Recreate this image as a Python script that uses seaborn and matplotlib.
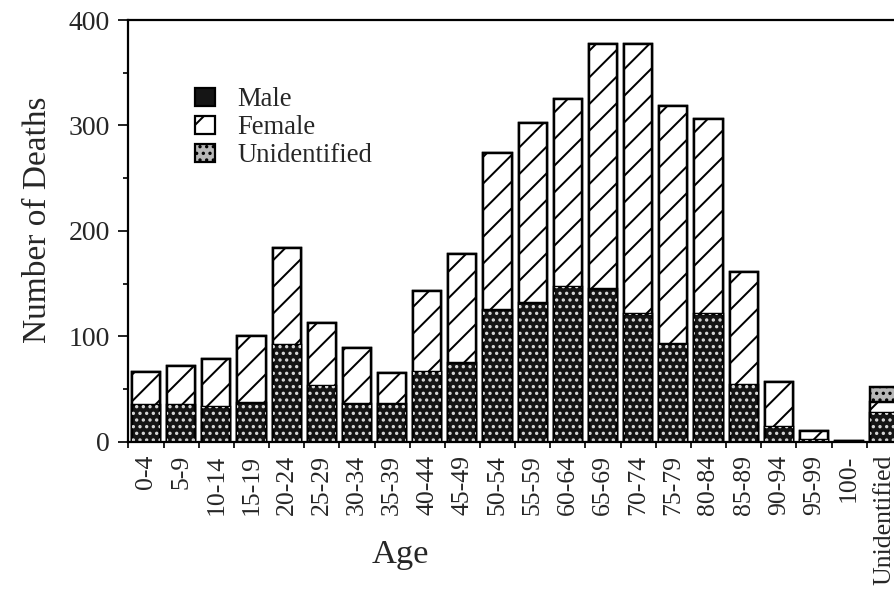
import numpy as np
import pandas as pd
import matplotlib
matplotlib.use("Agg")
import matplotlib.pyplot as plt
import seaborn as sns
from matplotlib.patches import Patch

# Data
ages = ["0-4", "5-9", "10-14", "15-19", "20-24", "25-29", "30-34", "35-39",
        "40-44", "45-49", "50-54", "55-59", "60-64", "65-69", "70-74", "75-79",
        "80-84", "85-89", "90-94", "95-99", "100-", "Unidentified"]
male = [35, 35, 33, 37, 92, 53, 36, 36, 66, 75, 125, 132, 147, 145, 121, 93,
        121, 54, 14, 2, 0, 27]
female = [31, 37, 45, 63, 92, 60, 53, 29, 77, 103, 149, 170, 178, 232, 256, 225,
          185, 107, 43, 8, 1, 11]
unidentified = [0] * 21 + [14]

df = pd.DataFrame({"Age": ages, "Male": male, "Female": female,
                   "Unidentified": unidentified})
df["MF"] = df["Male"] + df["Female"]
df["Total"] = df["MF"] + df["Unidentified"]

sns.set_style("ticks")
plt.rcParams["font.family"] = ["Liberation Serif", "DejaVu Serif"]
plt.rcParams["hatch.linewidth"] = 0.9

DPI = 160
fig = plt.figure(figsize=(894 / DPI, 603 / DPI), dpi=DPI)
ax = fig.add_axes([128 / 894, 1 - 441.7 / 603, 777 / 894, 421.7 / 603])

edge = dict(edgecolor="black", linewidth=1.1)

# stacked bars drawn tallest first
sns.barplot(data=df, x="Age", y="Total", color="#b8b8b8", saturation=1,
            hatch="....", width=0.8, ax=ax, **edge)
sns.barplot(data=df, x="Age", y="MF", color="white", saturation=1,
            hatch="//", width=0.8, ax=ax, **edge)
sns.barplot(data=df, x="Age", y="Male", color="#151515", saturation=1,
            width=0.8, ax=ax, **edge)
# white dot grid over the male part
sns.barplot(data=df, x="Age", y="Male", fill=False, edgecolor="#d8d8d8",
            linewidth=0, hatch="....", width=0.8, ax=ax)

ax.set_xlim(-0.512, 21.59)
ax.set_ylim(0, 400)

ax.set_xticks(range(len(ages)), labels=ages, rotation=90)
ax.set_xticks(np.arange(-0.5, len(ages), 1), minor=True)
ax.tick_params(axis="x", which="major", length=0, pad=6, labelsize=11.6)
ax.tick_params(axis="x", which="minor", length=2.7, width=0.9)
ax.set_yticks([0, 100, 200, 300, 400])
ax.set_yticks(np.arange(50, 400, 100), minor=True)
ax.tick_params(axis="y", which="major", length=4.5, width=0.9, pad=3.5,
               labelsize=12.5)
ax.tick_params(axis="y", which="minor", length=2.2, width=0.9)

for side in ["left", "bottom", "top", "right"]:
    ax.spines[side].set_visible(True)
    ax.spines[side].set_linewidth(1.0)
    ax.spines[side].set_color("black")

ax.set_ylabel("Number of Deaths", fontsize=15, va="center")
ax.yaxis.set_label_coords(-90 / 777, 0.526)
ax.set_xlabel("Age", fontsize=15.5, va="center")
ax.xaxis.set_label_coords(272 / 777, -0.2687)

handles = [
    Patch(facecolor="#151515", edgecolor="black", label="Male"),
    Patch(facecolor="white", edgecolor="black", hatch="/", label="Female"),
    Patch(facecolor="#b8b8b8", edgecolor="black", hatch="....", label="Unidentified"),
]
ax.legend(handles=handles, loc="upper left", frameon=False, fontsize=12,
          bbox_to_anchor=(195 / 894, 1 - 87 / 603), bbox_transform=fig.transFigure,
          borderpad=0, borderaxespad=0, handlelength=0.75, handleheight=0.65,
          handletextpad=0.85, labelspacing=0.12)

fig.savefig("out.png", dpi=DPI)
